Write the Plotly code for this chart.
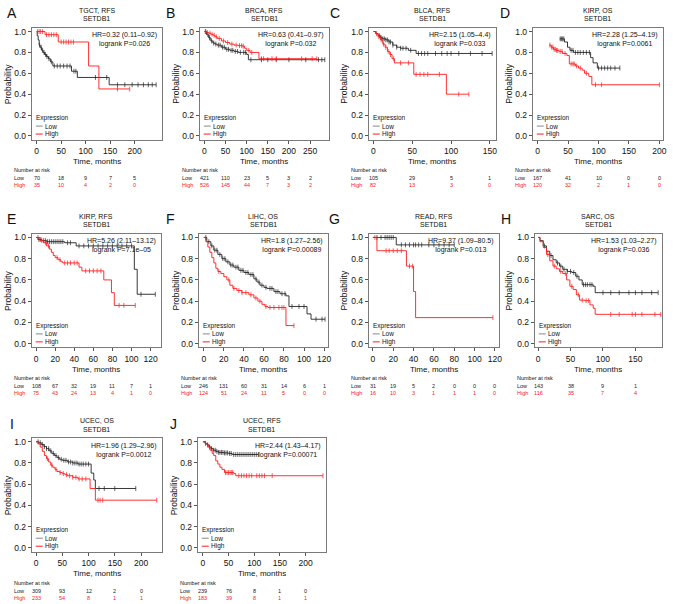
import plotly.graph_objects as go

W, H = 673, 604

# ---------------- data ----------------
letters = ["A", "B", "C", "D", "E", "F", "G", "H", "I", "J"]
titles = ["TGCT, RFS", "BRCA, RFS", "BLCA, RFS", "KIRP, OS", "KIRP, RFS",
          "LIHC, OS", "READ, RFS", "SARC, OS", "UCEC, OS", "UCEC, RFS"]
gene = "SETDB1"
hr_text = ["HR=0.32 (0.11–0.92)", "HR=0.63 (0.41–0.97)", "HR=2.15 (1.05–4.4)",
           "HR=2.28 (1.25–4.19)", "HR=5.26 (2.11–13.12)", "HR=1.8 (1.27–2.56)",
           "HR=9.37 (1.09–80.5)", "HR=1.53 (1.03–2.27)", "HR=1.96 (1.29–2.96)",
           "HR=2.44 (1.43–4.17)"]
logrank_text = ["logrank P=0.026", "logrank P=0.032", "logrank P=0.033",
                "logrank P=0.0061", "logrank P=7.1e–05", "logrank P=0.00089",
                "logrank P=0.013", "logrank P=0.036", "logrank P=0.0012",
                "logrank P=0.00071"]

# A  TGCT RFS
a_low_t = [0, 1, 3, 5, 7, 10, 13, 16, 20, 24, 28, 33, 71, 83, 148, 244]
a_low_s = [1.0, 0.96, 0.92, 0.87, 0.85, 0.82, 0.80, 0.78, 0.76, 0.74, 0.71, 0.67, 0.62, 0.56, 0.49, 0.49]
a_low_c = [6, 9, 12, 15, 18, 21, 25, 30, 36, 42, 48, 55, 62, 68, 76, 80, 120, 143, 165, 180, 195, 207, 218, 228, 236, 244]
a_high_t = [0, 17, 44, 106, 127, 190]
a_high_s = [1.0, 0.97, 0.90, 0.67, 0.45, 0.45]
a_high_c = [2, 5, 8, 12, 20, 25, 30, 35, 40, 50, 55, 60, 65, 70, 75, 165, 190]
a_ticks = [0, 50, 100, 150, 200]
a_risk_low = [70, 18, 9, 7, 5]
a_risk_high = [35, 10, 4, 2, 0]

# B  BRCA RFS
b_low_t = [0, 5, 10, 15, 20, 25, 30, 40, 50, 60, 70, 80, 90, 100, 104, 285]
b_low_s = [1.0, 0.97, 0.94, 0.91, 0.89, 0.88, 0.87, 0.85, 0.83, 0.82, 0.81, 0.80, 0.80, 0.78, 0.73, 0.73]
b_low_c = [3, 8, 12, 17, 22, 27, 33, 37, 43, 47, 53, 57, 63, 67, 73, 78, 85, 93, 97, 110, 135, 150, 170, 200, 240, 270, 278, 285]
b_high_t = [0, 5, 10, 15, 20, 25, 30, 40, 50, 60, 70, 80, 90, 95, 100, 108, 129, 266]
b_high_s = [1.0, 0.99, 0.985, 0.975, 0.965, 0.95, 0.935, 0.91, 0.895, 0.88, 0.87, 0.865, 0.86, 0.84, 0.82, 0.80, 0.74, 0.74]
b_high_c = [2, 7, 13, 18, 23, 28, 35, 45, 55, 65, 75, 83, 88, 92, 105, 112, 135, 140, 160, 170, 230, 255, 266]
b_ticks = [0, 50, 100, 150, 200, 250]
b_risk_low = [421, 110, 23, 5, 3, 2]
b_risk_high = [526, 145, 44, 7, 3, 2]

# C  BLCA RFS
c_low_t = [0, 3, 6, 9, 12, 16, 20, 25, 30, 35, 45, 55, 153]
c_low_s = [1.0, 0.98, 0.96, 0.94, 0.93, 0.92, 0.90, 0.87, 0.85, 0.84, 0.82, 0.79, 0.79]
c_low_c = [8, 10, 12, 14, 16, 18, 20, 22, 25, 30, 35, 38, 42, 48, 58, 62, 66, 70, 80, 88, 95, 100, 110, 125, 140, 153]
c_high_t = [0, 3, 6, 9, 12, 15, 18, 21, 24, 27, 52, 94, 123]
c_high_s = [1.0, 0.98, 0.95, 0.92, 0.88, 0.85, 0.81, 0.78, 0.74, 0.70, 0.59, 0.40, 0.40]
c_high_c = [4, 7, 10, 13, 16, 19, 22, 26, 35, 45, 55, 60, 65, 70, 85, 110, 123]
c_ticks = [0, 50, 100, 150]
c_risk_low = [105, 29, 5, 1]
c_risk_high = [82, 13, 3, 0]

# D  KIRP OS
d_low_t = [36, 44, 49, 53, 59, 87, 91, 98, 135]
d_low_s = [0.93, 0.90, 0.85, 0.82, 0.80, 0.75, 0.70, 0.65, 0.65]
d_low_c = [37, 39, 41, 43, 55, 58, 62, 66, 70, 75, 80, 85, 100, 105, 110, 115, 120, 127, 135]
d_high_t = [19, 22, 26, 30, 35, 41, 48, 52, 62, 67, 73, 77, 84, 89, 200]
d_high_s = [0.87, 0.85, 0.83, 0.82, 0.81, 0.79, 0.77, 0.69, 0.67, 0.65, 0.63, 0.60, 0.57, 0.49, 0.49]
d_high_c = [20, 23, 25, 27, 29, 31, 33, 37, 40, 45, 55, 58, 60, 64, 70, 80, 95, 105, 200]
d_ticks = [0, 50, 100, 150, 200]
d_risk_low = [167, 41, 10, 0, 0]
d_risk_high = [120, 32, 2, 1, 0]

# E  KIRP RFS
e_low_t = [0, 2, 6, 11, 30, 42, 103, 106, 125]
e_low_s = [1.0, 0.98, 0.97, 0.96, 0.95, 0.92, 0.70, 0.465, 0.465]
e_low_c = [3, 5, 8, 10, 12, 14, 16, 18, 20, 22, 24, 26, 28, 33, 36, 45, 50, 55, 60, 65, 70, 75, 80, 85, 90, 95, 100, 110, 125]
e_high_t = [0, 4, 8, 11, 14, 16, 18, 20, 23, 26, 28, 45, 48, 71, 79, 82, 104]
e_high_s = [1.0, 0.97, 0.95, 0.92, 0.89, 0.86, 0.83, 0.81, 0.79, 0.77, 0.76, 0.72, 0.685, 0.60, 0.48, 0.36, 0.36]
e_high_c = [2, 6, 10, 13, 22, 25, 30, 33, 36, 40, 43, 52, 56, 60, 64, 68, 87, 92, 104]
e_ticks = [0, 20, 40, 60, 80, 100, 120]
e_risk_low = [108, 67, 32, 19, 11, 7, 1]
e_risk_high = [75, 43, 24, 13, 4, 1, 0]

# F  LIHC OS
f_low_t = [0, 3, 7, 10, 14, 18, 22, 26, 30, 35, 40, 45, 50, 53, 56, 60, 63, 70, 76, 82, 85, 103, 107, 121]
f_low_s = [1.0, 0.96, 0.92, 0.88, 0.84, 0.80, 0.77, 0.74, 0.72, 0.69, 0.67, 0.65, 0.61, 0.58, 0.55, 0.53, 0.52, 0.49, 0.47, 0.45, 0.35, 0.28, 0.23, 0.23]
f_low_c = [2, 5, 8, 11, 13, 16, 19, 21, 24, 27, 29, 32, 34, 37, 39, 42, 44, 47, 49, 52, 55, 58, 62, 66, 68, 72, 74, 78, 81, 88, 95, 100, 112, 118, 121]
f_high_t = [0, 2, 4, 6, 8, 10, 12, 14, 17, 20, 23, 26, 29, 33, 38, 45, 50, 54, 58, 61, 64, 82, 90]
f_high_s = [1.0, 0.96, 0.91, 0.86, 0.81, 0.76, 0.71, 0.68, 0.66, 0.63, 0.60, 0.55, 0.52, 0.50, 0.48, 0.46, 0.43, 0.40, 0.37, 0.35, 0.34, 0.17, 0.17]
f_high_c = [15, 25, 30, 35, 38, 42, 47, 52, 56, 62, 66, 70, 75, 78, 80, 90]
f_ticks = [0, 20, 40, 60, 80, 100, 120]
f_risk_low = [246, 131, 60, 31, 14, 6, 1]
f_risk_high = [124, 51, 24, 11, 5, 0, 0]

# G  READ RFS
g_low_t = [0, 23, 80]
g_low_s = [1.0, 0.93, 0.93]
g_low_c = [4, 8, 12, 14, 16, 18, 20, 28, 32, 36, 40, 42, 45, 48, 55, 60, 65, 70, 75, 80]
g_high_t = [0, 4, 33, 40, 42, 118]
g_high_s = [1.0, 0.875, 0.73, 0.49, 0.245, 0.245]
g_high_c = [2, 13, 16, 20, 24, 28, 36, 39, 118]
g_ticks = [0, 20, 40, 60, 80, 100, 120]
g_risk_low = [31, 19, 5, 2, 0, 0, 0]
g_risk_high = [16, 10, 3, 1, 1, 1, 0]

# H  SARC OS
h_low_t = [0, 3, 8, 13, 18, 23, 28, 33, 38, 45, 52, 58, 63, 68, 85, 88, 185]
h_low_s = [1.0, 0.97, 0.92, 0.87, 0.83, 0.79, 0.76, 0.73, 0.70, 0.68, 0.67, 0.635, 0.60, 0.555, 0.54, 0.48, 0.48]
h_low_c = [10, 20, 30, 35, 40, 45, 50, 55, 60, 70, 73, 76, 80, 83, 100, 112, 125, 140, 150, 160, 175, 185]
h_high_t = [0, 3, 8, 13, 18, 23, 28, 33, 38, 44, 49, 54, 59, 64, 72, 80, 85, 88, 189]
h_high_s = [1.0, 0.96, 0.905, 0.84, 0.78, 0.73, 0.705, 0.68, 0.66, 0.60, 0.54, 0.51, 0.46, 0.41, 0.405, 0.365, 0.333, 0.276, 0.276]
h_high_c = [15, 25, 35, 42, 52, 62, 68, 74, 78, 112, 125, 145, 150, 160, 180, 189]
h_ticks = [0, 50, 100, 150]
h_risk_low = [143, 38, 9, 1]
h_risk_high = [116, 35, 7, 4]

# I  UCEC OS
i_low_t = [0, 5, 10, 15, 20, 25, 30, 35, 40, 45, 50, 60, 70, 80, 105, 110, 113, 190]
i_low_s = [1.0, 0.99, 0.975, 0.955, 0.935, 0.915, 0.89, 0.87, 0.85, 0.835, 0.825, 0.81, 0.80, 0.79, 0.705, 0.64, 0.56, 0.56]
i_low_c = [4, 8, 12, 16, 20, 24, 28, 33, 38, 43, 48, 53, 57, 62, 66, 70, 74, 78, 82, 86, 90, 95, 100, 120, 130, 150, 190]
i_high_t = [0, 4, 8, 12, 16, 20, 24, 28, 32, 36, 40, 45, 50, 55, 60, 70, 80, 103, 113, 230]
i_high_s = [1.0, 0.98, 0.95, 0.91, 0.87, 0.84, 0.81, 0.78, 0.76, 0.74, 0.72, 0.71, 0.70, 0.69, 0.68, 0.665, 0.65, 0.56, 0.45, 0.45]
i_high_c = [22, 30, 38, 46, 52, 58, 64, 70, 76, 82, 88, 95, 118, 122, 127, 230]
i_ticks = [0, 50, 100, 150, 200]
i_risk_low = [309, 93, 12, 2, 0]
i_risk_high = [233, 54, 8, 1, 1]

# J  UCEC RFS
j_low_t = [0, 4, 8, 12, 16, 20, 25, 30, 40, 50, 57, 108]
j_low_s = [1.0, 0.985, 0.97, 0.95, 0.935, 0.92, 0.91, 0.90, 0.895, 0.89, 0.88, 0.88]
j_low_c = [5, 9, 13, 17, 21, 24, 27, 30, 33, 36, 39, 42, 45, 48, 52, 55, 60, 64, 68, 72, 76, 80, 84, 88, 92, 96, 100, 104, 108]
j_high_t = [0, 5, 10, 14, 18, 21, 25, 29, 33, 37, 42, 60, 64, 234]
j_high_s = [1.0, 0.98, 0.95, 0.92, 0.89, 0.87, 0.82, 0.79, 0.76, 0.74, 0.71, 0.70, 0.68, 0.68]
j_high_c = [44, 47, 50, 53, 56, 58, 70, 75, 80, 85, 90, 95, 105, 110, 115, 120, 135, 234]
j_ticks = [0, 50, 100, 150, 200]
j_risk_low = [239, 76, 8, 1, 0]
j_risk_high = [183, 39, 8, 1, 1]

panels = [
    (a_low_t, a_low_s, a_low_c, a_high_t, a_high_s, a_high_c, a_ticks, a_risk_low, a_risk_high),
    (b_low_t, b_low_s, b_low_c, b_high_t, b_high_s, b_high_c, b_ticks, b_risk_low, b_risk_high),
    (c_low_t, c_low_s, c_low_c, c_high_t, c_high_s, c_high_c, c_ticks, c_risk_low, c_risk_high),
    (d_low_t, d_low_s, d_low_c, d_high_t, d_high_s, d_high_c, d_ticks, d_risk_low, d_risk_high),
    (e_low_t, e_low_s, e_low_c, e_high_t, e_high_s, e_high_c, e_ticks, e_risk_low, e_risk_high),
    (f_low_t, f_low_s, f_low_c, f_high_t, f_high_s, f_high_c, f_ticks, f_risk_low, f_risk_high),
    (g_low_t, g_low_s, g_low_c, g_high_t, g_high_s, g_high_c, g_ticks, g_risk_low, g_risk_high),
    (h_low_t, h_low_s, h_low_c, h_high_t, h_high_s, h_high_c, h_ticks, h_risk_low, h_risk_high),
    (i_low_t, i_low_s, i_low_c, i_high_t, i_high_s, i_high_c, i_ticks, i_risk_low, i_risk_high),
    (j_low_t, j_low_s, j_low_c, j_high_t, j_high_s, j_high_c, j_ticks, j_risk_low, j_risk_high),
]

# ---------------- layout (pixel boxes) ----------------
# (left, right, top, bottom) of each plot box in page pixels
rows = [(27, 139), (233.5, 347.5), (438.5, 552.5)]
boxes = [
    (32, 163, *rows[0]), (201, 331, *rows[0]), (371, 499, *rows[0]), (536, 667, *rows[0]),
    (32, 162, *rows[1]), (200, 330, *rows[1]), (371, 502, *rows[1]), (538, 666, *rows[1]),
    (32, 163, *rows[2]), (199, 328, *rows[2]),
]
xranges = [[-10, 256], [-11, 295], [-6, 158], [-8, 206], [-4.5, 131],
           [-5, 124], [-4, 124], [-5, 191], [-8, 240], [-10, 240]]
letter_x = [12, 172, 337, 508, 12, 172, 337, 509, 12, 175]
ylab_x = [7.5, 177, 346, 512, 7.5, 177, 346, 512, 7.5, 174.5]

FONT = "Liberation Sans, Arial, sans-serif"
LOW_C = "#222222"
HIGH_C = "#ff1a1a"


def px(x):
    return x / W


def py(y):
    return 1 - y / H


def surv_at(ts, ss, t):
    v = ss[0]
    for tt, s in zip(ts, ss):
        if tt <= t:
            v = s
    return v


fig = go.Figure()
annotations = []
shapes = []

for k, (lt, ls, lc, ht, hs, hc, ticks, rl, rh) in enumerate(panels):
    n = k + 1
    xa = "x" if n == 1 else f"x{n}"
    ya = "y" if n == 1 else f"y{n}"
    x0, x1, y0, y1 = boxes[k]

    for t, s, c, col in ((lt, ls, lc, LOW_C), (ht, hs, hc, HIGH_C)):
        fig.add_trace(go.Scatter(x=t, y=s, mode="lines", line=dict(color=col, width=0.9, shape="hv"),
                                 xaxis=xa, yaxis=ya, showlegend=False, hoverinfo="skip"))
        fig.add_trace(go.Scatter(x=c, y=[surv_at(t, s, v) for v in c], mode="markers",
                                 marker=dict(symbol="line-ns", size=3.5, line=dict(color=col, width=0.7)),
                                 xaxis=xa, yaxis=ya, showlegend=False, hoverinfo="skip"))

    axis_common = dict(showline=True, linecolor="#7a7a7a", linewidth=1, mirror=True,
                       ticks="outside", ticklen=3, tickcolor="#555", tickwidth=1,
                       showgrid=False, zeroline=False,
                       tickfont=dict(family=FONT, size=8.5, color="#111"))
    fig.update_layout(**{
        ("xaxis" if n == 1 else f"xaxis{n}"): dict(
            domain=[px(x0), px(x1)], anchor=ya, range=xranges[k],
            tickvals=ticks, **axis_common),
        ("yaxis" if n == 1 else f"yaxis{n}"): dict(
            domain=[py(y1), py(y0)], anchor=xa, range=[-0.035, 1.035],
            tickvals=[0, 0.2, 0.4, 0.6, 0.8, 1.0], tickformat=".1f", **axis_common),
    })

    cx = (x0 + x1) / 2
    # titles and panel letter
    annotations += [
        dict(x=px(cx), y=py(y0 - 17.5), text=titles[k], font=dict(size=7, color="#111")),
        dict(x=px(cx), y=py(y0 - 9), text=gene, font=dict(size=7, color="#111")),
        dict(x=px(letter_x[k]), y=py(y0 - 14.5), text=letters[k], font=dict(size=14, color="#111")),
        dict(x=px(x1 - 4), y=py(y0 + 2.5), text=hr_text[k] + "<br>" + logrank_text[k],
             xanchor="right", yanchor="top", align="center", font=dict(size=7, color="#111")),
        dict(x=px(ylab_x[k]), y=py((y0 + y1) / 2), text="Probability", textangle=-90,
             font=dict(size=8.5, color="#111")),
        dict(x=px(cx), y=py(y1 + 22), text="Time, months", font=dict(size=8, color="#111")),
        # legend
        dict(x=px(x0 + 3), y=py(y1 - 21.5), text="Expression", xanchor="left",
             font=dict(size=6.5, color="#111")),
        dict(x=px(x0 + 12), y=py(y1 - 13.5), text="Low", xanchor="left", font=dict(size=6.5, color="#111")),
        dict(x=px(x0 + 12), y=py(y1 - 5.5), text="High", xanchor="left", font=dict(size=6.5, color="#111")),
        # number at risk
        dict(x=px(x0 - 19), y=py(y1 + 31), text="Number at risk", xanchor="left",
             font=dict(size=5.5, color="#111")),
        dict(x=px(x0 - 19), y=py(y1 + 39), text="Low", xanchor="left", font=dict(size=5.5, color=LOW_C)),
        dict(x=px(x0 - 19), y=py(y1 + 46), text="High", xanchor="left", font=dict(size=5.5, color=HIGH_C)),
    ]
    for tv, nl, nh in zip(ticks, rl, rh):
        annotations += [
            dict(x=tv, xref=xa, y=py(y1 + 39), text=str(nl), font=dict(size=5.5, color=LOW_C)),
            dict(x=tv, xref=xa, y=py(y1 + 46), text=str(nh), font=dict(size=5.5, color=HIGH_C)),
        ]
    shapes += [
        dict(type="line", xref="paper", yref="paper", x0=px(x0 + 4), x1=px(x0 + 11),
             y0=py(y1 - 13.5), y1=py(y1 - 13.5), line=dict(color="#888", width=1)),
        dict(type="line", xref="paper", yref="paper", x0=px(x0 + 4), x1=px(x0 + 11),
             y0=py(y1 - 5.5), y1=py(y1 - 5.5), line=dict(color=HIGH_C, width=1)),
    ]

for a in annotations:
    a.setdefault("xref", "paper")
    a.setdefault("yref", "paper")
    a.setdefault("xanchor", "center")
    a.setdefault("yanchor", "middle")
    a.setdefault("showarrow", False)
    a.setdefault("borderpad", 0)
    a["font"].setdefault("family", FONT)

fig.update_layout(width=W, height=H, margin=dict(l=0, r=0, t=0, b=0),
                  plot_bgcolor="white", paper_bgcolor="white",
                  font=dict(family=FONT), annotations=annotations, shapes=shapes,
                  showlegend=False)

# the page body has a default 8px margin; drop it so the figure sits at (0, 0)
fig.write_html("out.html", config={"displayModeBar": False},
               post_script="document.body.style.margin='0';document.body.style.overflow='hidden';")
